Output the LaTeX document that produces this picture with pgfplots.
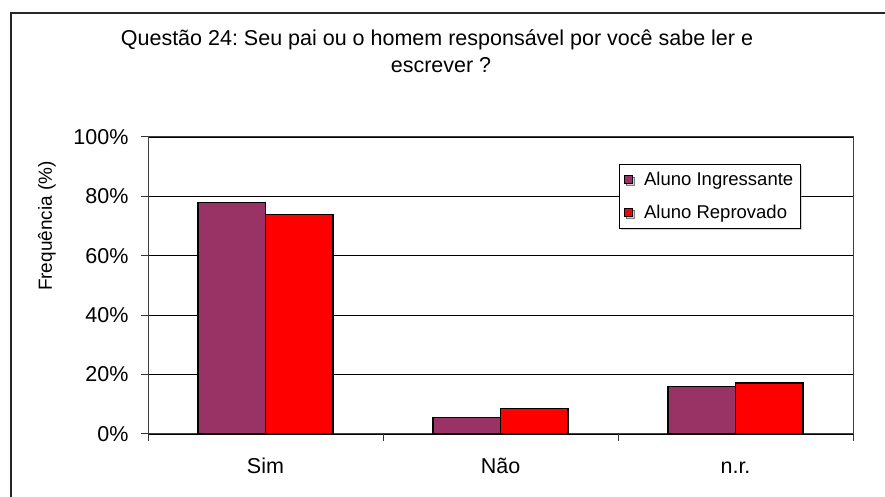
\documentclass[border=0pt]{standalone}
\usepackage{pgfplots}
\pgfplotsset{compat=1.18}
\usepackage{fontspec}
\setmainfont{Liberation Sans}
\usetikzlibrary{shadows}
\definecolor{ingr}{HTML}{993366}
\definecolor{repr}{HTML}{FF0000}
\begin{document}
\frenchspacing
\begin{tikzpicture}[x=1pt,y=1pt,font=\fontsize{21.5}{25}\selectfont]
\useasboundingbox (0,0) rectangle (885,497);
\draw[line width=1.2pt, black!85] (11,-2) -- (11,484) -- (887,484);
\node[anchor=base] at (437,451) {Questão 24: Seu pai ou o homem responsável por você sabe ler e};
\node[anchor=base] at (441,424) {escrever ?};
\node[rotate=90, font=\fontsize{19}{22}\selectfont] at (47,271) {Frequência (\%)};
\begin{axis}[
  at={(148pt,63pt)}, anchor=south west, scale only axis,
  width=705pt, height=297pt,
  ybar=0pt, bar width=67.5pt,
  xmin=-0.5, xmax=2.5, ymin=0, ymax=100,
  xtick={-0.5,0.5,1.5,2.5}, xticklabels={},
  extra x ticks={0,1,2}, extra x tick labels={Sim,Não,n.r.},
  extra x tick style={major tick length=0pt},
  ytick={0,20,40,60,80,100},
  yticklabels={0\%,20\%,40\%,60\%,80\%,100\%},
  ymajorgrids, grid style={black, line width=0.8pt},
  tick align=outside, xtick pos=bottom, ytick pos=left,
  major tick length=7pt,
  tick style={black!80, line width=1pt},
  axis line style={black!75, line width=1pt},
  ticklabel style={font=\fontsize{21.5}{25}\selectfont},
  xticklabel style={yshift=-28pt, text height=1.5ex, text depth=0.25ex},
  yticklabel style={xshift=-9pt},
  legend style={at={(0.668,0.909)}, anchor=north west, draw=black,
    line width=0.8pt, inner xsep=5pt, inner ysep=6pt, row sep=14pt,
    font=\fontsize{18.5}{22}\selectfont, legend cell align=left,
    /tikz/every odd column/.append style={column sep=9pt},
    drop shadow={shadow xshift=1.5pt, shadow yshift=-1.5pt, fill=black!35}, fill=white},
  legend image code/.code={\draw[#1,line width=0.8pt,draw=black] (0pt,-4pt) rectangle (8pt,4pt);},
]
\addplot[fill=ingr, draw=black, line width=1.2pt] coordinates {(0,78) (1,5.6) (2,16.1)};
\addplot[fill=repr, draw=black, line width=1.2pt] coordinates {(0,74) (1,8.5) (2,17.2)};
\legend{Aluno Ingressante, Aluno Reprovado}
\end{axis}
\end{tikzpicture}
\end{document}
